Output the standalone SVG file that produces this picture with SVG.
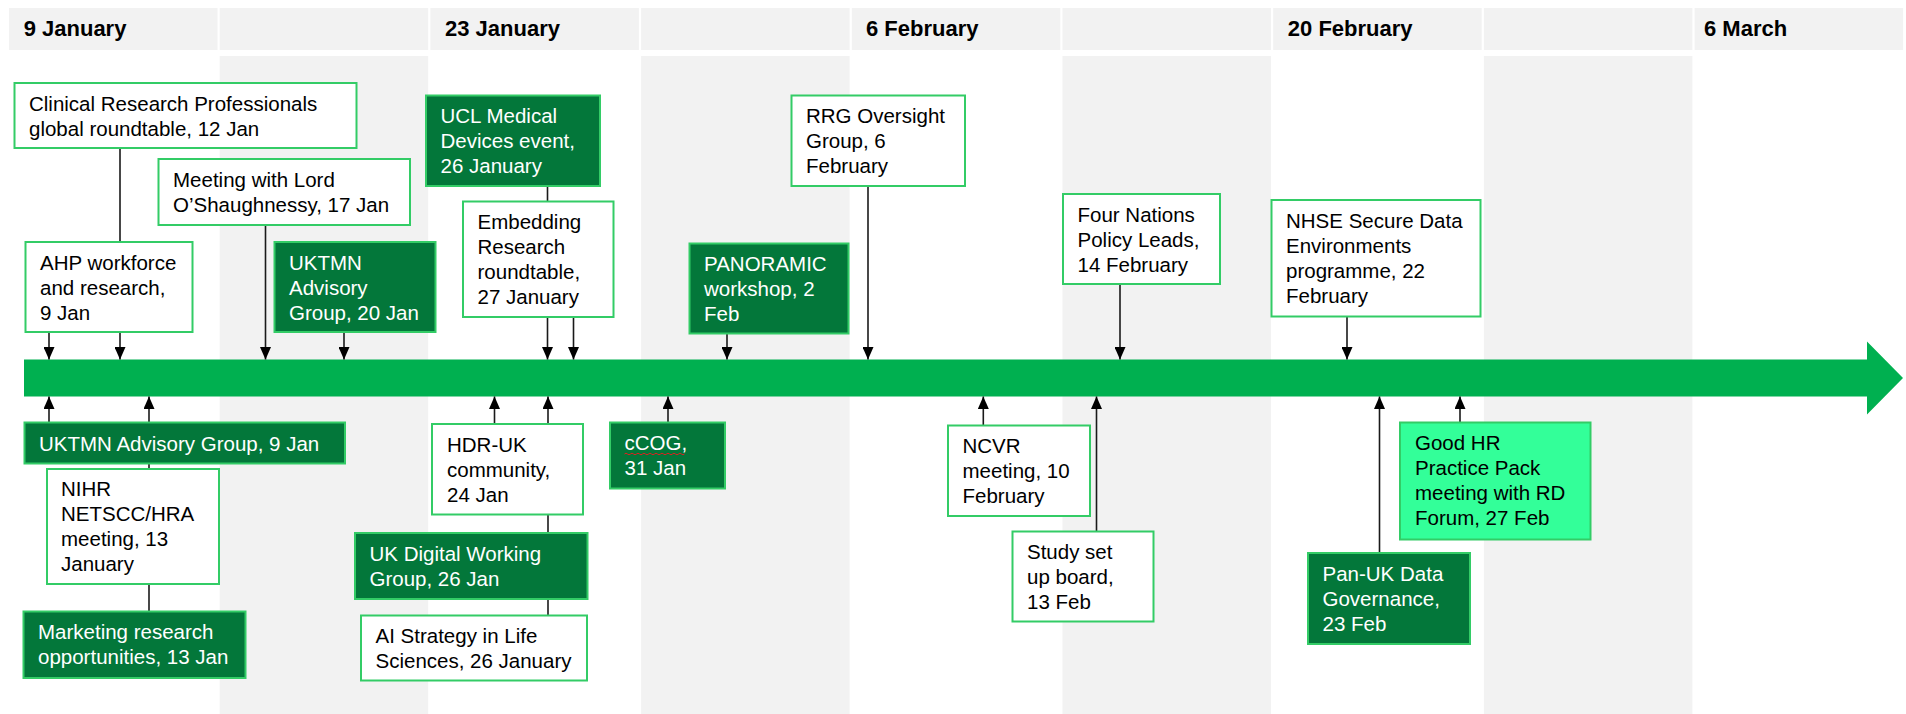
<svg xmlns="http://www.w3.org/2000/svg" width="1906" height="714" viewBox="0 0 1906 714">
<defs>
<style>
.hdr{fill:#f2f2f2}
.col{fill:#f2f2f2}
.ht{font-family:"Liberation Sans",Arial,sans-serif;font-size:22px;font-weight:bold;fill:#000}
.t{font-family:"Liberation Sans",Arial,sans-serif;font-size:20.5px}
.w rect{fill:#fff;stroke:#33cc66;stroke-width:2}
.w text{fill:#000}
.d rect{fill:#03773a;stroke:#33cc66;stroke-width:2}
.d text{fill:#fff}
.m rect{fill:#33ff99;stroke:#33cc66;stroke-width:2}
.m text{fill:#000}
.c line{stroke:#1a1a1a;stroke-width:1.6;fill:none}
</style>
<marker id="ah" markerUnits="userSpaceOnUse" markerWidth="13" markerHeight="11" refX="12.5" refY="5.5" orient="auto">
<path d="M0,0 L12.5,5.5 L0,11 z" fill="#000"/>
</marker>
</defs>
<rect width="1906" height="714" fill="#fff"/>
<g id="background">
<rect class="hdr" x="9" y="8" width="208.5" height="42"/>
<rect class="hdr" x="219.7" y="8" width="208.5" height="42"/>
<rect class="hdr" x="430.4" y="8" width="208.5" height="42"/>
<rect class="hdr" x="641.1" y="8" width="208.5" height="42"/>
<rect class="hdr" x="851.8" y="8" width="208.5" height="42"/>
<rect class="hdr" x="1062.5" y="8" width="208.5" height="42"/>
<rect class="hdr" x="1273.2" y="8" width="208.5" height="42"/>
<rect class="hdr" x="1483.9" y="8" width="208.5" height="42"/>
<rect class="hdr" x="1694.6" y="8" width="208.5" height="42"/>
<rect class="col" x="219.7" y="56" width="208.5" height="658"/>
<rect class="col" x="641.1" y="56" width="208.5" height="658"/>
<rect class="col" x="1062.5" y="56" width="208.5" height="658"/>
<rect class="col" x="1483.9" y="56" width="208.5" height="658"/>
<text class="ht" x="23.7" y="36">9 January</text>
<text class="ht" x="445" y="36">23 January</text>
<text class="ht" x="866" y="36">6 February</text>
<text class="ht" x="1287.8" y="36">20 February</text>
<text class="ht" x="1704" y="36">6 March</text>
</g>
<g id="timeline">
<path d="M24,359.5 H1867 V341.5 L1903,378 L1867,414.5 V396.5 H24 z" fill="#00b050"/>
</g>
<g id="connectors" class="c">
<line x1="120" y1="148" x2="120" y2="359.5" marker-end="url(#ah)"/>
<line x1="49" y1="332" x2="49" y2="359.5" marker-end="url(#ah)"/>
<line x1="265.5" y1="225" x2="265.5" y2="359.5" marker-end="url(#ah)"/>
<line x1="344" y1="332" x2="344" y2="359.5" marker-end="url(#ah)"/>
<line x1="547.5" y1="186" x2="547.5" y2="359.5" marker-end="url(#ah)"/>
<line x1="573.5" y1="317" x2="573.5" y2="359.5" marker-end="url(#ah)"/>
<line x1="727" y1="333.5" x2="727" y2="359.5" marker-end="url(#ah)"/>
<line x1="868" y1="186" x2="868" y2="359.5" marker-end="url(#ah)"/>
<line x1="1120" y1="284" x2="1120" y2="359.5" marker-end="url(#ah)"/>
<line x1="1347" y1="316.5" x2="1347" y2="359.5" marker-end="url(#ah)"/>
<line x1="49" y1="422.5" x2="49" y2="396.5" marker-end="url(#ah)"/>
<line x1="149" y1="611.5" x2="149" y2="396.5" marker-end="url(#ah)"/>
<line x1="494.5" y1="424" x2="494.5" y2="396.5" marker-end="url(#ah)"/>
<line x1="548" y1="615.5" x2="548" y2="396.5" marker-end="url(#ah)"/>
<line x1="668" y1="422.5" x2="668" y2="396.5" marker-end="url(#ah)"/>
<line x1="983.3" y1="425.5" x2="983.3" y2="396.5" marker-end="url(#ah)"/>
<line x1="1096.5" y1="531.5" x2="1096.5" y2="396.5" marker-end="url(#ah)"/>
<line x1="1379.5" y1="553" x2="1379.5" y2="396.5" marker-end="url(#ah)"/>
<line x1="1460" y1="422.5" x2="1460" y2="396.5" marker-end="url(#ah)"/>
</g>
<g id="clinical" class="w"><rect x="14.5" y="83" width="342" height="65"/><text class="t" x="29" y="110.5"><tspan x="29">Clinical Research Professionals</tspan><tspan x="29" dy="25">global roundtable, 12 Jan</tspan></text></g>
<g id="ahp" class="w"><rect x="25.5" y="242" width="167" height="90"/><text class="t" x="40" y="269.5"><tspan x="40">AHP workforce</tspan><tspan x="40" dy="25">and research,</tspan><tspan x="40" dy="25">9 Jan</tspan></text></g>
<g id="lord" class="w"><rect x="158.5" y="159" width="251.5" height="66"/><text class="t" x="173" y="186.5"><tspan x="173">Meeting with Lord</tspan><tspan x="173" dy="25">O’Shaughnessy, 17 Jan</tspan></text></g>
<g id="uktmn20" class="d"><rect x="274.5" y="242" width="161" height="90"/><text class="t" x="289" y="269.5"><tspan x="289">UKTMN</tspan><tspan x="289" dy="25">Advisory</tspan><tspan x="289" dy="25">Group, 20 Jan</tspan></text></g>
<g id="ucl" class="d"><rect x="426" y="95.5" width="174" height="90.5"/><text class="t" x="440.5" y="123"><tspan x="440.5">UCL Medical</tspan><tspan x="440.5" dy="25">Devices event,</tspan><tspan x="440.5" dy="25">26 January</tspan></text></g>
<g id="embedding" class="w"><rect x="463" y="201.5" width="150.5" height="115.5"/><text class="t" x="477.5" y="229"><tspan x="477.5">Embedding</tspan><tspan x="477.5" dy="25">Research</tspan><tspan x="477.5" dy="25">roundtable,</tspan><tspan x="477.5" dy="25">27 January</tspan></text></g>
<g id="panoramic" class="d"><rect x="689.5" y="243.5" width="159" height="90"/><text class="t" x="704" y="271"><tspan x="704">PANORAMIC</tspan><tspan x="704" dy="25">workshop, 2</tspan><tspan x="704" dy="25">Feb</tspan></text></g>
<g id="rrg" class="w"><rect x="791.5" y="95.5" width="173.5" height="90.5"/><text class="t" x="806" y="123"><tspan x="806">RRG Oversight</tspan><tspan x="806" dy="25">Group, 6</tspan><tspan x="806" dy="25">February</tspan></text></g>
<g id="fournations" class="w"><rect x="1063" y="194" width="157" height="90"/><text class="t" x="1077.5" y="221.5"><tspan x="1077.5">Four Nations</tspan><tspan x="1077.5" dy="25">Policy Leads,</tspan><tspan x="1077.5" dy="25">14 February</tspan></text></g>
<g id="nhse" class="w"><rect x="1271.5" y="200" width="209" height="116.5"/><text class="t" x="1286" y="227.5"><tspan x="1286">NHSE Secure Data</tspan><tspan x="1286" dy="25">Environments</tspan><tspan x="1286" dy="25">programme, 22</tspan><tspan x="1286" dy="25">February</tspan></text></g>
<g id="uktmn9" class="d"><rect x="24.5" y="422.5" width="320.5" height="41"/><text class="t" x="39" y="450.5">UKTMN Advisory Group, 9 Jan</text></g>
<g id="nihr" class="w"><rect x="47" y="469" width="172" height="115"/><text class="t" x="61" y="496"><tspan x="61">NIHR</tspan><tspan x="61" dy="25">NETSCC/HRA</tspan><tspan x="61" dy="25">meeting, 13</tspan><tspan x="61" dy="25">January</tspan></text></g>
<g id="marketing" class="d"><rect x="23.5" y="611.5" width="222" height="66.5"/><text class="t" x="38" y="639"><tspan x="38">Marketing research</tspan><tspan x="38" dy="25">opportunities, 13 Jan</tspan></text></g>
<g id="hdruk" class="w"><rect x="432" y="424" width="151" height="90.5"/><text class="t" x="447" y="451.5"><tspan x="447">HDR-UK</tspan><tspan x="447" dy="25">community,</tspan><tspan x="447" dy="25">24 Jan</tspan></text></g>
<g id="ukdigital" class="d"><rect x="355" y="533" width="232.5" height="66"/><text class="t" x="369.5" y="560.5"><tspan x="369.5">UK Digital Working</tspan><tspan x="369.5" dy="25">Group, 26 Jan</tspan></text></g>
<g id="aistrategy" class="w"><rect x="361" y="615.5" width="226" height="65"/><text class="t" x="375.5" y="643"><tspan x="375.5">AI Strategy in Life</tspan><tspan x="375.5" dy="25">Sciences, 26 January</tspan></text></g>
<g id="ccog" class="d"><rect x="610" y="422.5" width="115" height="66"/><text class="t" x="624.5" y="450"><tspan x="624.5">cCOG,</tspan><tspan x="624.5" dy="25">31 Jan</tspan></text><path d="M624.5,454 q1.5,-1.6 3,0 t3,0 t3,0 t3,0 t3,0 t3,0 t3,0 t3,0 t3,0 t3,0 t3,0 t3,0 t3,0 t3,0 t3,0 t3,0 t3,0 t3,0 t3,0 t3,0" fill="none" stroke="#e02020" stroke-width="1"/></g>
<g id="ncvr" class="w"><rect x="948" y="425.5" width="142" height="90.5"/><text class="t" x="962.5" y="453"><tspan x="962.5">NCVR</tspan><tspan x="962.5" dy="25">meeting, 10</tspan><tspan x="962.5" dy="25">February</tspan></text></g>
<g id="study" class="w"><rect x="1012.5" y="531.5" width="141" height="90"/><text class="t" x="1027" y="559"><tspan x="1027">Study set</tspan><tspan x="1027" dy="25">up board,</tspan><tspan x="1027" dy="25">13 Feb</tspan></text></g>
<g id="panuk" class="d"><rect x="1308" y="553" width="162" height="91"/><text class="t" x="1322.5" y="580.5"><tspan x="1322.5">Pan-UK Data</tspan><tspan x="1322.5" dy="25">Governance,</tspan><tspan x="1322.5" dy="25">23 Feb</tspan></text></g>
<g id="goodhr" class="m"><rect x="1400" y="422.5" width="190.5" height="117"/><text class="t" x="1415" y="450"><tspan x="1415">Good HR</tspan><tspan x="1415" dy="25">Practice Pack</tspan><tspan x="1415" dy="25">meeting with RD</tspan><tspan x="1415" dy="25">Forum, 27 Feb</tspan></text></g>
</svg>
